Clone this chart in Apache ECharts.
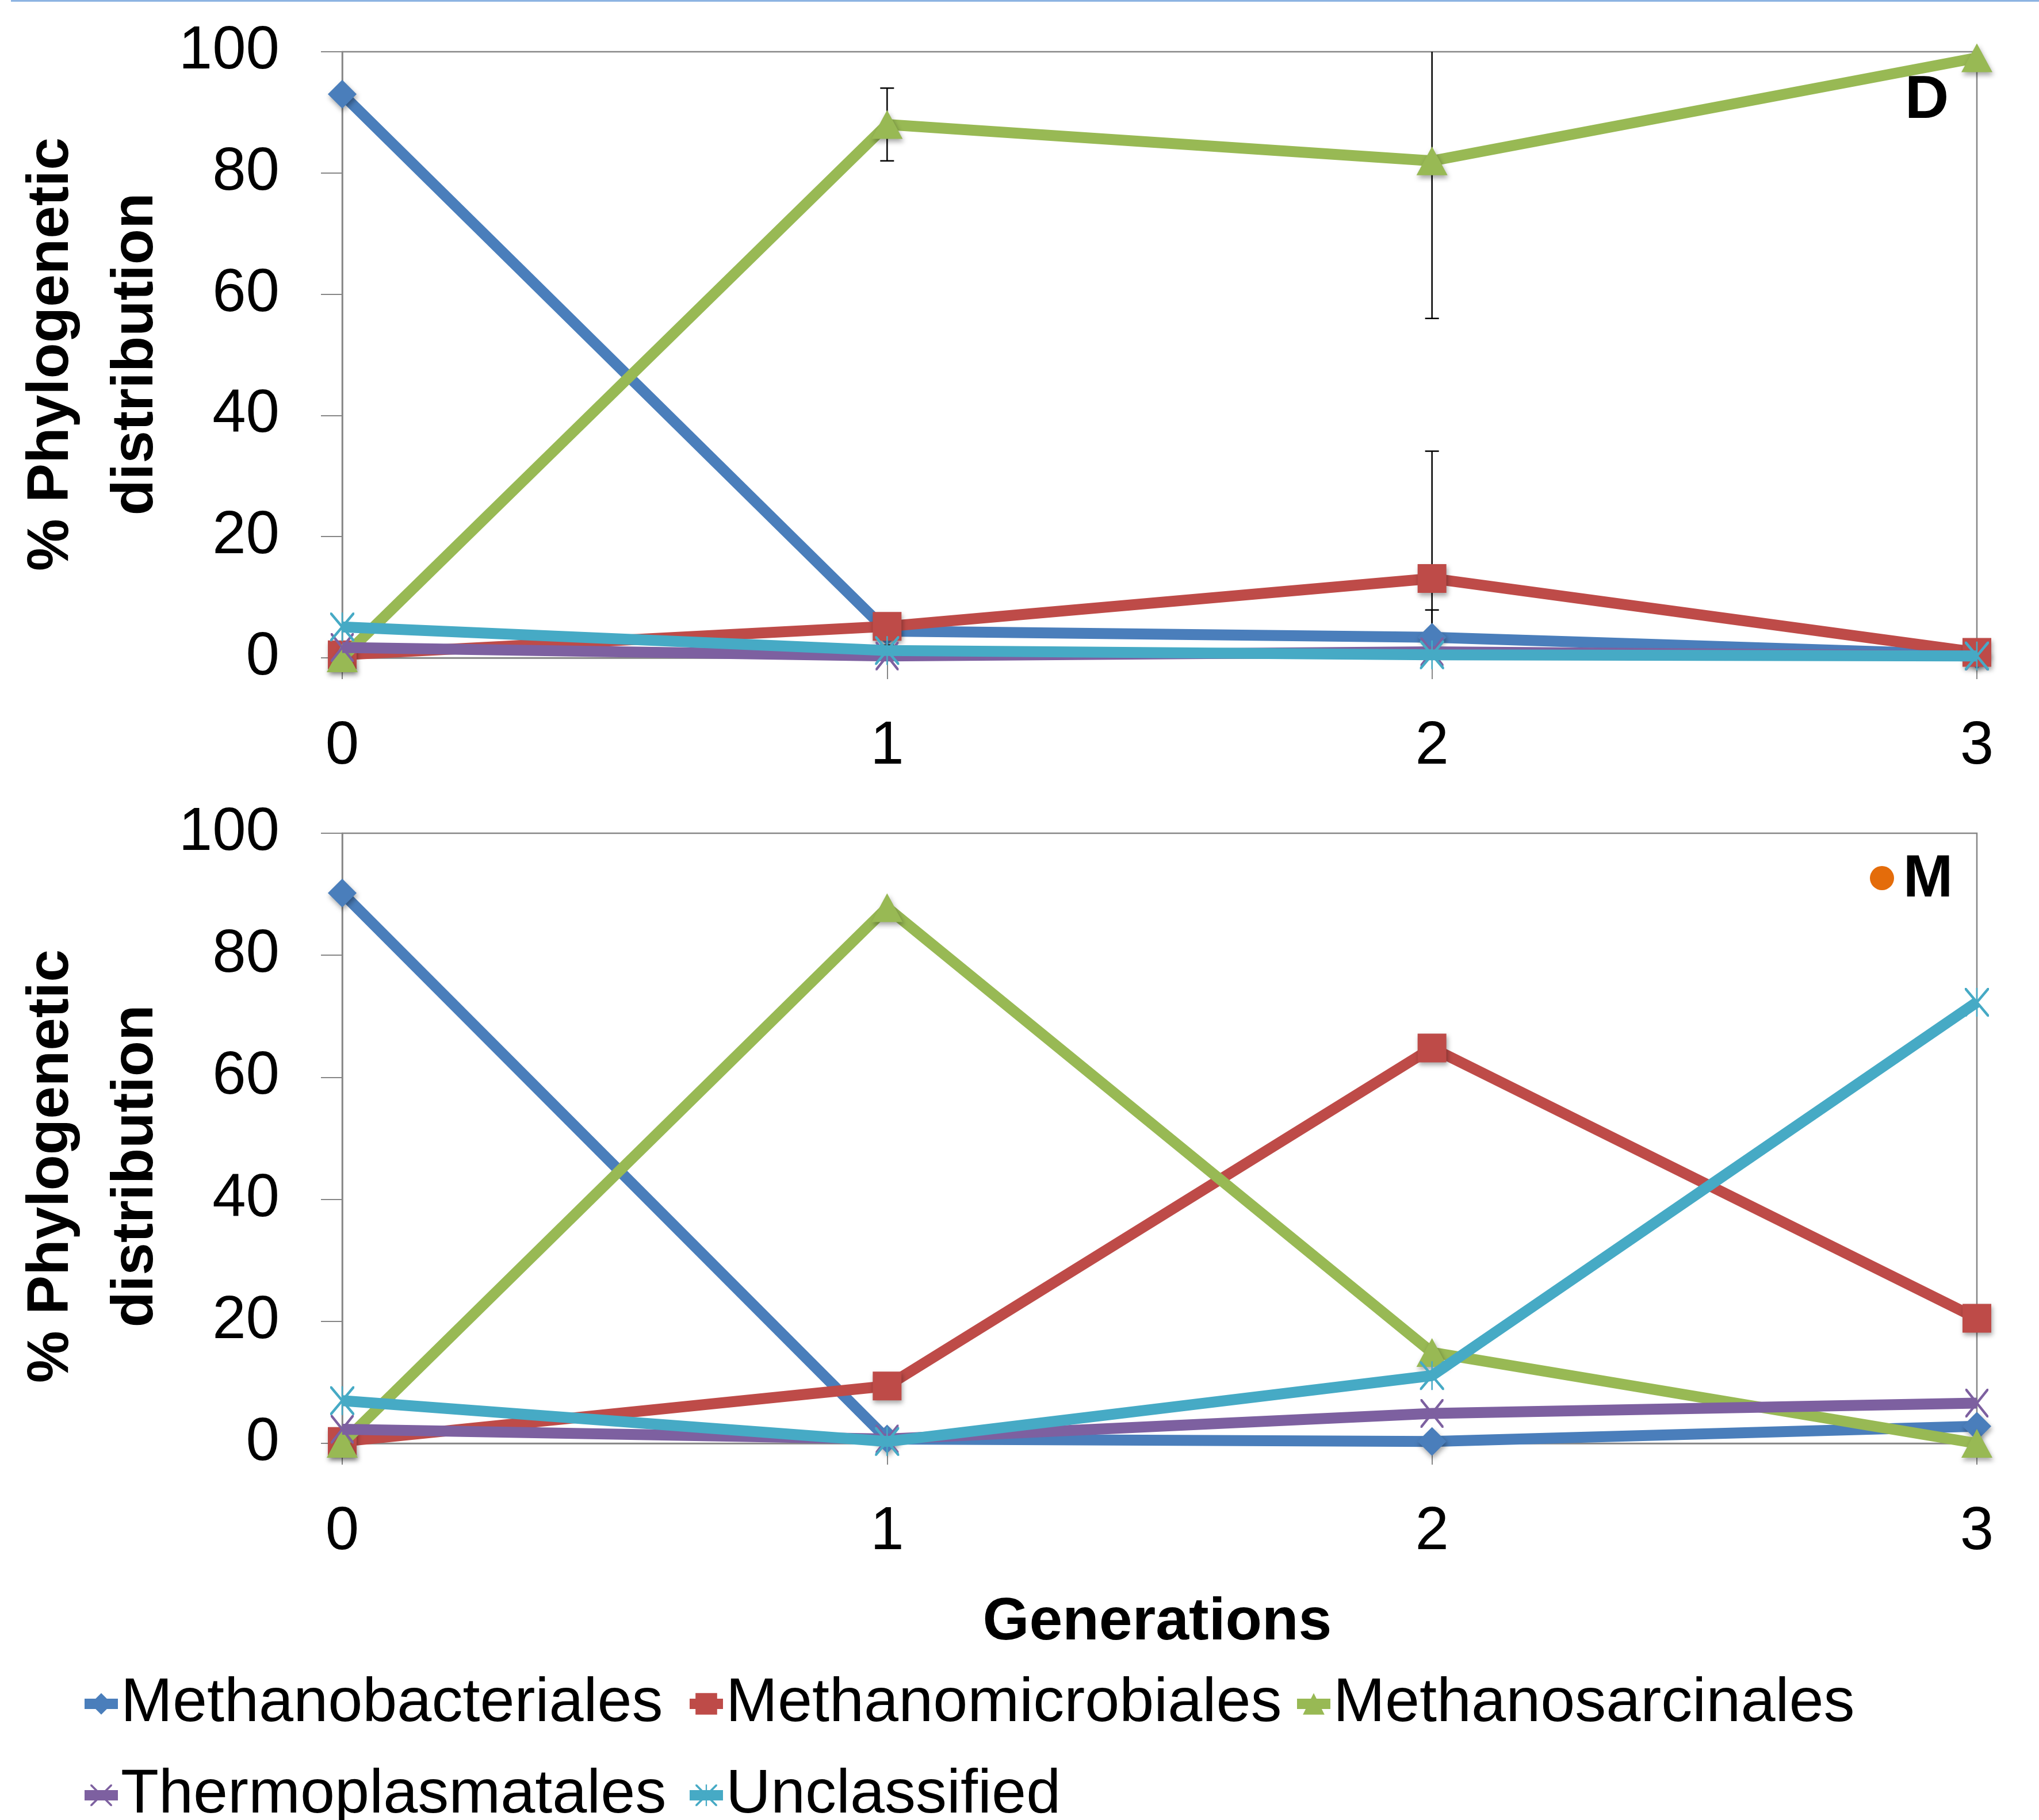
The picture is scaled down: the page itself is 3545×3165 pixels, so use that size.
<!DOCTYPE html>
<html>
<head>
<meta charset="utf-8">
<script src="https://cdn.jsdelivr.net/npm/echarts@6/dist/echarts.min.js"></script>
<style>
html,body{margin:0;padding:0;background:#fff;}
#chart{width:3545px;height:3165px;}
</style>
</head>
<body>
<div id="chart"></div>
<script>
// ---- data ----
const generations = [0, 1, 2, 3];
const seriesNames = ['Methanobacteriales', 'Methanomicrobiales', 'Methanosarcinales', 'Thermoplasmatales', 'Unclassified'];

// Panel D (top)
const dBacteriales = [93, 4.4, 3.4, 0.5];
const dMicrobiales = [0.5, 5.2, 13.1, 0.9];
const dSarcinales = [0, 88, 82, 99];
const dThermoplasmatales = [1.7, 0.3, 1.0, 0.3];
const dUnclassified = [5.1, 1.2, 0.5, 0.3];
// error bar half-widths (panel D)
const dErrBacteriales = [0, 2.3, 4.5, 0];
const dErrMicrobiales = [0, 0, 21, 0];
const dErrSarcinales = [0, 6, 26, 0];

// Panel M (bottom)
const mBacteriales = [90.2, 0.7, 0.3, 2.8];
const mMicrobiales = [0.3, 9.4, 64.8, 20.5];
const mSarcinales = [0, 87.8, 14.9, 0];
const mThermoplasmatales = [2.3, 0.7, 4.9, 6.6];
const mUnclassified = [7.0, 0.3, 11.1, 72.3];

const yTicks = [0, 20, 40, 60, 80, 100];

// ---- style ----
const FONT = '"Liberation Sans", Arial, sans-serif';
const colors = ['#4A7EBB', '#BE4B48', '#98B954', '#7D60A0', '#46AAC5'];
const xPath = 'path://M0,0L7,0L100,93L100,100L93,100L0,7Z M93,0L100,0L100,7L7,100L0,100L0,93Z';
const starPath = 'path://M0,0L7,0L100,93L100,100L93,100L0,7Z M93,0L100,0L100,7L7,100L0,100L0,93Z M47,0L53,0L53,100L47,100Z';
const symbols = ['diamond', 'rect', 'triangle', xPath, starPath];
const symbolSizes = [[50, 50], [50, 50], [54, 50], [40, 50], [42, 50]];

const chart = echarts.init(document.getElementById('chart'), null, {renderer: 'canvas'});

function toPairs(vals) { return generations.map((g, i) => [g, vals[i]]); }
function toErr(vals, errs) { return generations.map((g, i) => [g, vals[i], errs[i]]); }

function lineSeries(name, idx, vals, gi) {
  const hasShadow = idx < 3;
  return {
    type: 'line', name: name, xAxisIndex: gi, yAxisIndex: gi,
    data: toPairs(vals), clip: false,
    symbol: symbols[idx], symbolSize: symbolSizes[idx],
    lineStyle: {color: colors[idx], width: 19},
    itemStyle: Object.assign({color: colors[idx], opacity: 1},
      hasShadow ? {shadowColor: 'rgba(0,0,0,0.35)', shadowBlur: 8, shadowOffsetX: 2, shadowOffsetY: 5} : {}),
    emphasis: {disabled: true},
    z: 3 + idx * 0.01,
    animation: false
  };
}

function errSeries(vals, errs, gi) {
  return {
    type: 'custom', xAxisIndex: gi, yAxisIndex: gi,
    data: toErr(vals, errs), z: 2, silent: true, animation: false,
    renderItem: function (params, api) {
      const x = api.value(0), y = api.value(1), e = api.value(2);
      if (!e) return null;
      const hiV = y + e, loV = y - e;
      const hi = api.coord([x, Math.min(hiV, 100)]);
      const lo = api.coord([x, Math.max(loV, 0)]);
      const children = [{type: 'line', shape: {x1: hi[0], y1: hi[1], x2: lo[0], y2: lo[1]}, style: {stroke: '#000', lineWidth: 2.5}}];
      const cw = 12;
      if (hiV <= 100) children.push({type: 'line', shape: {x1: hi[0] - cw, y1: hi[1], x2: hi[0] + cw, y2: hi[1]}, style: {stroke: '#000', lineWidth: 2.5}});
      if (loV >= 0) children.push({type: 'line', shape: {x1: lo[0] - cw, y1: lo[1], x2: lo[0] + cw, y2: lo[1]}, style: {stroke: '#000', lineWidth: 2.5}});
      return {type: 'group', children: children};
    }
  };
}

function xAxisCfg(gi) {
  return {
    type: 'value', gridIndex: gi, min: generations[0], max: generations[generations.length - 1], interval: 1,
    axisLine: {show: true, onZero: false, lineStyle: {color: '#868686', width: 2.5}},
    axisTick: {show: true, length: 37, inside: false, lineStyle: {color: '#868686', width: 2}},
    splitLine: {show: false},
    axisLabel: {fontSize: 105, color: '#000', fontFamily: FONT, margin: 103}
  };
}
function yAxisCfg(gi) {
  return {
    type: 'value', gridIndex: gi, min: yTicks[0], max: yTicks[yTicks.length - 1], interval: yTicks[1] - yTicks[0],
    axisLine: {show: true, lineStyle: {color: '#868686', width: 2.5}},
    axisTick: {show: true, length: 37, inside: false, lineStyle: {color: '#868686', width: 2}},
    splitLine: {show: false},
    axisLabel: {fontSize: 105, color: '#000', fontFamily: FONT, margin: 109}
  };
}

const dVals = [dBacteriales, dMicrobiales, dSarcinales, dThermoplasmatales, dUnclassified];
const mVals = [mBacteriales, mMicrobiales, mSarcinales, mThermoplasmatales, mUnclassified];

const series = [
  errSeries(dBacteriales, dErrBacteriales, 0),
  errSeries(dMicrobiales, dErrMicrobiales, 0),
  errSeries(dSarcinales, dErrSarcinales, 0)
];
seriesNames.forEach((n, i) => series.push(lineSeries(n, i, dVals[i], 0)));
seriesNames.forEach((n, i) => series.push(lineSeries(n, i, mVals[i], 1)));

const legendPos = [[138, 2898], [1190, 2898], [2246, 2898], [138, 3057], [1190, 3057]];
const legends = seriesNames.map((n, i) => ({
  data: [n], left: legendPos[i][0], top: legendPos[i][1], padding: 0,
  itemWidth: 58, itemHeight: 47, itemGap: 0, selectedMode: false,
  lineStyle: {width: 18},
  textStyle: {fontSize: 108, fontFamily: FONT, color: '#000', lineHeight: 130}
}));

const labelFont = 'bold 102px ' + FONT;
const option = {
  backgroundColor: '#fff',
  animation: false,
  grid: [
    {left: 595, top: 90, width: 2842, height: 1054, show: true, borderColor: '#868686', borderWidth: 2.5, backgroundColor: 'transparent'},
    {left: 595, top: 1449, width: 2842, height: 1061, show: true, borderColor: '#868686', borderWidth: 2.5, backgroundColor: 'transparent'}
  ],
  xAxis: [xAxisCfg(0), xAxisCfg(1)],
  yAxis: [yAxisCfg(0), yAxisCfg(1)],
  legend: legends,
  series: series,
  graphic: [
    {type: 'rect', left: 19, top: 0, shape: {width: 3526, height: 3}, style: {fill: '#8DB4E2'}},
    {type: 'text', x: 90, y: 616, rotation: Math.PI / 2, style: {text: '% Phylogenetic', font: labelFont, fill: '#000', align: 'center', verticalAlign: 'middle'}},
    {type: 'text', x: 237, y: 616, rotation: Math.PI / 2, style: {text: 'distribution', font: labelFont, fill: '#000', align: 'center', verticalAlign: 'middle'}},
    {type: 'text', x: 90, y: 2028, rotation: Math.PI / 2, style: {text: '% Phylogenetic', font: labelFont, fill: '#000', align: 'center', verticalAlign: 'middle'}},
    {type: 'text', x: 237, y: 2028, rotation: Math.PI / 2, style: {text: 'distribution', font: labelFont, fill: '#000', align: 'center', verticalAlign: 'middle'}},
    {type: 'text', x: 2012, y: 2822, style: {text: 'Generations', font: 'bold 104px ' + FONT, fill: '#000', align: 'center', verticalAlign: 'middle'}},
    {type: 'text', x: 3350, y: 176, style: {text: 'D', font: 'bold 106px ' + FONT, fill: '#000', align: 'center', verticalAlign: 'middle'}},
    {type: 'text', x: 3352, y: 1530, style: {text: 'M', font: 'bold 104px ' + FONT, fill: '#000', align: 'center', verticalAlign: 'middle'}},
    {type: 'circle', shape: {cx: 3272, cy: 1527, r: 21}, style: {fill: '#E46C0A'}}
  ]
};
chart.setOption(option);
</script>
</body>
</html>
